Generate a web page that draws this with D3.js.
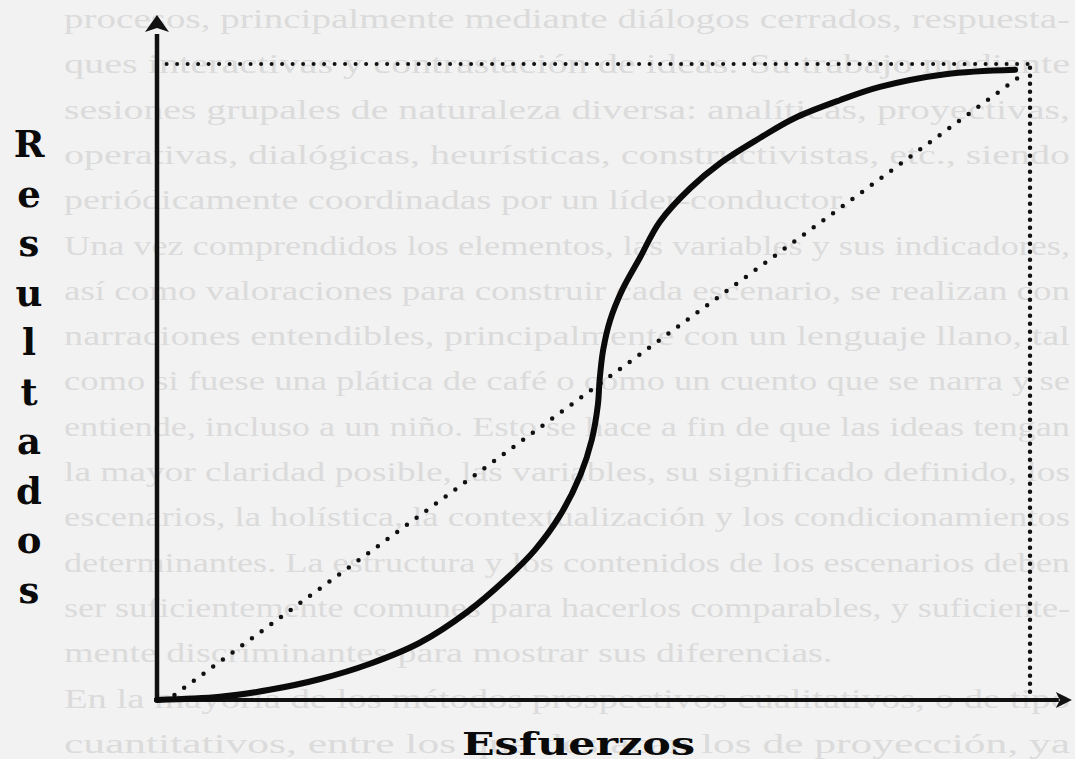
<!DOCTYPE html>
<html>
<head>
<meta charset="utf-8">
<script src="https://cdn.jsdelivr.net/npm/d3@7"></script>
<style>
  html, body { margin: 0; padding: 0; background: #f2f2f2; }
  svg { display: block; }
</style>
</head>
<body>
<div id="viz"></div>
<script>
// curva S: esfuerzo (x) contra resultado (y), escala 0-100
var esfuerzo = [0, 7.2, 12.9, 18.7, 24.4, 30.1, 35.5, 39.9, 43.3, 46.2, 48.5, 49.8, 50.5, 50.7, 51.1, 51.9, 53.3, 55.3, 57.6, 61.1, 64.5, 69.1, 72.9, 78.2, 82.8, 90.3, 98.3];
var resultado = [0, 0.5, 1.6, 3.3, 5.7, 9.0, 13.8, 18.9, 23.6, 29.1, 35.4, 40.9, 46.4, 50.3, 55.0, 59.7, 64.5, 69.5, 75.2, 80.5, 84.4, 88.4, 91.4, 94.3, 96.4, 98.4, 99.1];

// lineas punteadas
var diagonalX = [2, 99.4], diagonalY = [0.8, 98.6];
var techoX = [1.1, 100], techoY = [100, 100];
var limiteX = [100, 100], limiteY = [1.3, 100];

// hasta donde llegan las flechas de los ejes
var ejeMaxX = 104.8, ejeMaxY = 107.7;

var tituloY = 'Resultados',
    tituloX = 'Esfuerzos';

// texto de la pagina de atras que se transparenta
var paginaAtras = [
    'procesos, principalmente mediante diálogos cerrados, respuesta-',
    'ques interactivas y contrastación de ideas. Su trabajo mediante',
    'sesiones grupales de naturaleza diversa: analíticas, proyectivas,',
    'operativas, dialógicas, heurísticas, constructivistas, etc., siendo',
    'periódicamente coordinadas por un líder-conductor.',
    'Una vez comprendidos los elementos, las variables y sus indicadores,',
    'así como valoraciones para construir cada escenario, se realizan con',
    'narraciones entendibles, principalmente con un lenguaje llano, tal',
    'como si fuese una plática de café o como un cuento que se narra y se',
    'entiende, incluso a un niño. Esto se hace a fin de que las ideas tengan',
    'la mayor claridad posible, las variables, su significado definido, los',
    'escenarios, la holística, la contextualización y los condicionamientos',
    'determinantes. La estructura y los contenidos de los escenarios deben',
    'ser suficientemente comunes para hacerlos comparables, y suficiente-',
    'mente discriminantes para mostrar sus diferencias.',
    'En la mayoría de los métodos prospectivos cualitativos, o de tipo',
    'cuantitativos, entre los que destacan los de proyección, ya'
];
var finParrafo = [4, 14];

var width = 1075,
    height = 759;

var svg = d3.select('#viz').append('svg')
    .attr('width', width)
    .attr('height', height)

svg.append('rect')
    .attr('width', width)
    .attr('height', height)
    .attr('fill', '#f2f2f2')

var atras = svg.append('g')
    .selectAll('text').data(paginaAtras)
    .enter().append('text')
    .attr('x', 64)
    .attr('y', function(d, i) { return 28 + i * 45.3 })
    .style('font-family', 'Liberation Serif, serif')
    .style('font-size', '28px')
    .style('fill', '#dbdbdb')
    .text(function(d) { return d })

// las lineas completas van justificadas; las de fin de parrafo con el mismo estiramiento
var anchos = atras.nodes().map(function(n) { return n.getComputedTextLength() });
var llenas = anchos.filter(function(d, i) { return finParrafo.indexOf(i) < 0 });
var estira = 1006 / d3.mean(llenas);
atras.each(function(d, i) {
    var largo = finParrafo.indexOf(i) < 0 ? 1006 : anchos[i] * estira;
    d3.select(this)
        .attr('textLength', largo)
        .attr('lengthAdjust', 'spacingAndGlyphs')
})

var x = d3.scaleLinear().domain([0, 100]).range([157, 1030]);
var y = d3.scaleLinear().domain([0, 100]).range([700, 64]);

var puntos = esfuerzo.map(function(d, i) { return [d, resultado[i]] });

function par(xs, ys) {
    return xs.map(function(d, i) { return [d, ys[i]] });
}

var linea = d3.line()
    .x(function(d) { return x(d[0]) })
    .y(function(d) { return y(d[1]) })

// punteadas
svg.append('path')
    .attr('d', linea(par(techoX, techoY)))
    .attr('fill', 'none')
    .attr('stroke', '#111')
    .attr('stroke-width', 4)
    .attr('stroke-linecap', 'round')
    .attr('stroke-dasharray', '0 10.5')

svg.append('path')
    .attr('d', linea(par(limiteX, limiteY)))
    .attr('fill', 'none')
    .attr('stroke', '#111')
    .attr('stroke-width', 4.5)
    .attr('stroke-linecap', 'round')
    .attr('stroke-dasharray', '0 8')

svg.append('path')
    .attr('d', linea(par(diagonalX, diagonalY)))
    .attr('fill', 'none')
    .attr('stroke', '#111')
    .attr('stroke-width', 4.5)
    .attr('stroke-linecap', 'round')
    .attr('stroke-dasharray', '0 12')

// ejes
svg.append('path')
    .attr('d', linea([[0, 0], [0, ejeMaxY - 3]]))
    .attr('stroke', '#111')
    .attr('stroke-width', 4.5)

svg.append('path')
    .attr('d', linea([[-0.3, 0], [ejeMaxX - 1.5, 0]]))
    .attr('stroke', '#111')
    .attr('stroke-width', 4)

var tipY = [x(0), y(ejeMaxY)],
    tipX = [x(ejeMaxX), y(0)];

svg.append('path')
    .attr('d', 'M' + tipY[0] + ',' + tipY[1] +
        'L' + (tipY[0] - 12) + ',' + (tipY[1] + 17) +
        'L' + tipY[0] + ',' + (tipY[1] + 13) +
        'L' + (tipY[0] + 12) + ',' + (tipY[1] + 17) + 'Z')
    .attr('fill', '#111')

svg.append('path')
    .attr('d', 'M' + tipX[0] + ',' + tipX[1] +
        'L' + (tipX[0] - 16) + ',' + (tipX[1] - 8) +
        'L' + (tipX[0] - 12) + ',' + tipX[1] +
        'L' + (tipX[0] - 16) + ',' + (tipX[1] + 8) + 'Z')
    .attr('fill', '#111')

// curva
svg.append('path')
    .attr('d', linea.curve(d3.curveCatmullRom.alpha(0.5))(puntos))
    .attr('fill', 'none')
    .attr('stroke', '#0a0a0a')
    .attr('stroke-width', 6)
    .attr('stroke-linecap', 'round')

// titulo vertical, letra por letra
var letras = tituloY.split('');
var posLetra = d3.scalePoint()
    .domain(d3.range(letras.length))
    .range([157, 603])

svg.append('g')
    .selectAll('text').data(letras)
    .enter().append('text')
    .attr('x', 29)
    .attr('y', function(d, i) { return posLetra(i) })
    .attr('text-anchor', 'middle')
    .style('font-family', 'DejaVu Serif, serif')
    .style('font-weight', 'bold')
    .style('font-size', '37px')
    .style('fill', '#0a0a0a')
    .text(function(d) { return d })

svg.append('text')
    .attr('x', 462)
    .attr('y', 755)
    .attr('textLength', 233)
    .attr('lengthAdjust', 'spacingAndGlyphs')
    .style('font-family', 'DejaVu Serif, serif')
    .style('font-weight', 'bold')
    .style('font-size', '31px')
    .style('fill', '#0a0a0a')
    .text(tituloX)
</script>
</body>
</html>
